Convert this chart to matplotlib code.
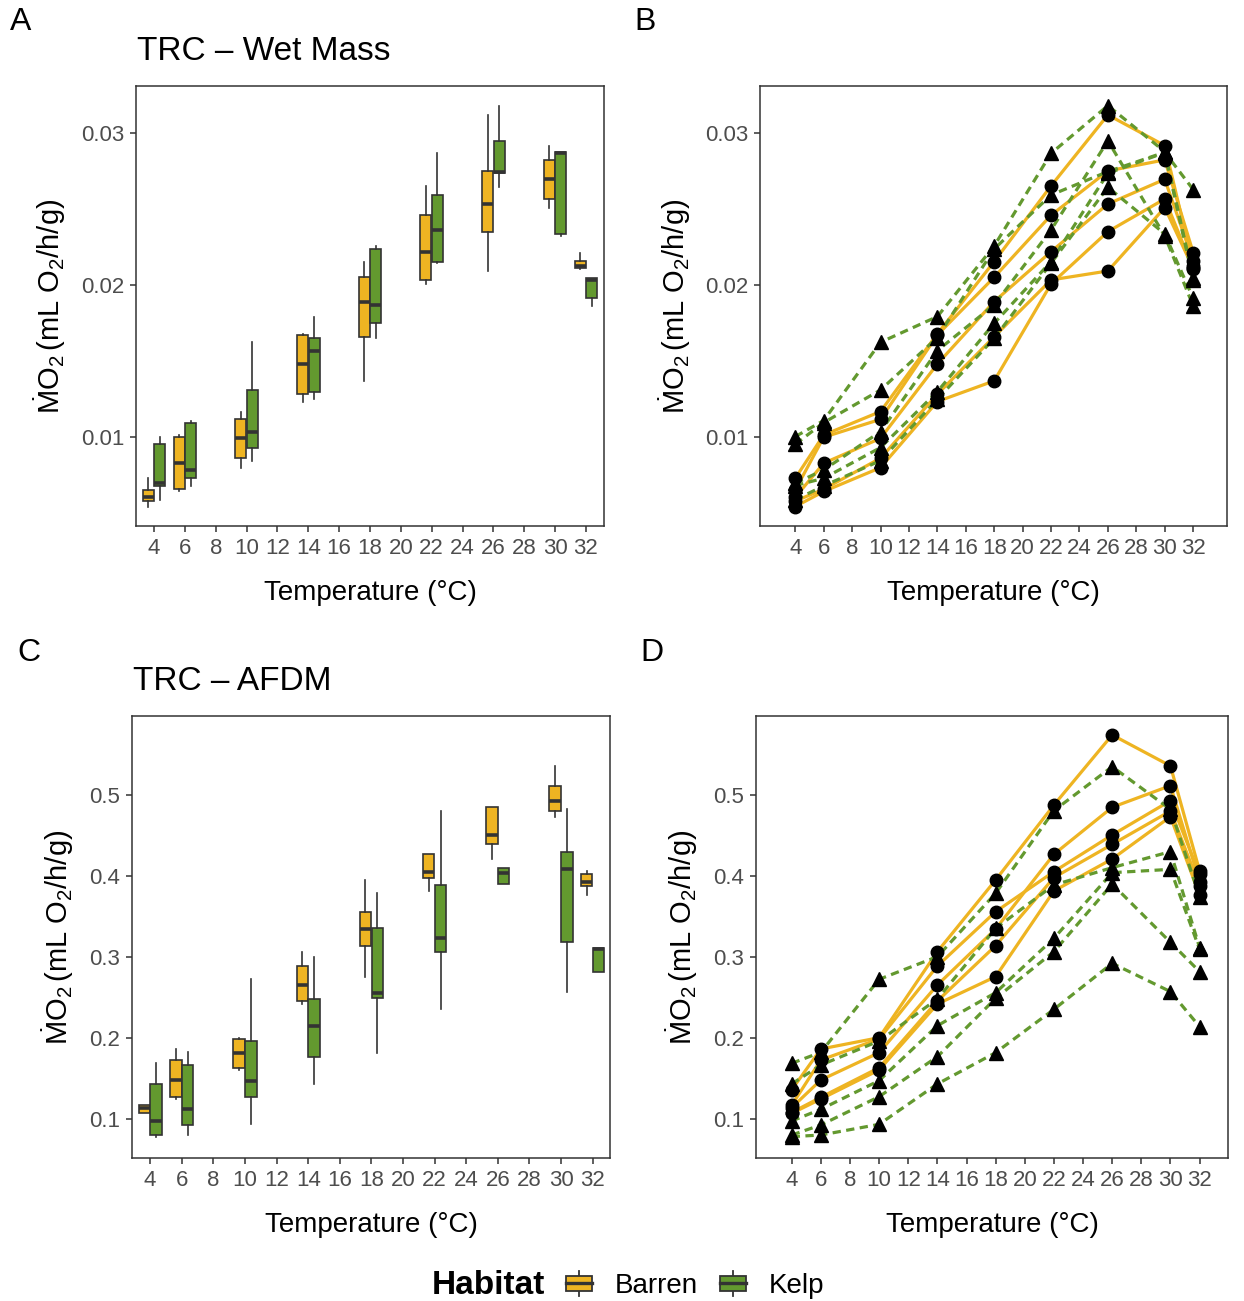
import matplotlib
matplotlib.use('Agg')
import matplotlib.pyplot as plt
import numpy as np
from matplotlib.legend_handler import HandlerBase
from matplotlib.patches import Rectangle, Patch
from matplotlib.lines import Line2D

plt.rcParams['font.family'] = ['Liberation Sans', 'DejaVu Sans']
plt.rcParams['mathtext.fontset'] = 'custom'
plt.rcParams['mathtext.rm'] = 'Liberation Sans'
plt.rcParams['mathtext.it'] = 'Liberation Sans:italic'
plt.rcParams['mathtext.bf'] = 'Liberation Sans:bold'

# ---- data: one row per individual, one column per temperature ----
temps = [4, 6, 10, 14, 18, 22, 26, 30, 32]

wm_barren = [
    [0.00730, 0.01015, 0.01169, 0.01680, 0.02156, 0.02654, 0.03121, 0.02919, 0.02129],
    [0.00653, 0.01000, 0.01118, 0.01673, 0.02053, 0.02461, 0.02752, 0.02825, 0.02215],
    [0.00605, 0.00829, 0.00993, 0.01482, 0.01893, 0.02221, 0.02535, 0.02697, 0.02162],
    [0.00580, 0.00658, 0.00862, 0.01283, 0.01662, 0.02035, 0.02094, 0.02511, 0.02112],
    [0.00544, 0.00643, 0.00800, 0.01235, 0.01371, 0.02009, 0.02353, 0.02568, 0.02110],
]
wm_kelp = [
    [0.01004, 0.01110, 0.01625, 0.01794, 0.02259, 0.02868, 0.03182, 0.02879, 0.02050],
    [0.00954, 0.01096, 0.01311, 0.01656, 0.02239, 0.02594, 0.02748, 0.02875, 0.02630],
    [0.00697, 0.00785, 0.01037, 0.01570, 0.01871, 0.02364, 0.02950, 0.02325, 0.01864],
    [0.00682, 0.00730, 0.00932, 0.01300, 0.01750, 0.02156, 0.02737, 0.02873, 0.02035],
    [0.00588, 0.00680, 0.00846, 0.01250, 0.01651, 0.02145, 0.02645, 0.02338, 0.01914],
]
afdm_barren = [
    [0.136, 0.1865, 0.2005, 0.3068, 0.3954, 0.488, 0.5746, 0.5363, 0.4065],
    [0.117, 0.1729, 0.1989, 0.2891, 0.3562, 0.4057, 0.4510, 0.4934, 0.4024],
    [0.114, 0.1482, 0.1820, 0.2656, 0.3348, 0.4271, 0.4852, 0.5119, 0.3933],
    [0.108, 0.1268, 0.1634, 0.2458, 0.3142, 0.3983, 0.4394, 0.4806, 0.3884],
    [0.107, 0.1247, 0.1606, 0.2421, 0.2759, 0.3818, 0.4213, 0.4736, 0.3768],
]
afdm_kelp = [
    [0.1688, 0.1824, 0.2726, 0.3006, 0.3789, 0.4811, 0.5354, 0.4827, 0.3748],
    [0.1433, 0.1667, 0.1964, 0.2483, 0.3356, 0.3892, 0.4106, 0.4304, 0.3117],
    [0.0975, 0.1120, 0.1474, 0.2153, 0.2561, 0.3233, 0.4044, 0.4085, 0.3097],
    [0.0802, 0.0926, 0.1276, 0.1770, 0.2491, 0.3068, 0.3904, 0.3183, 0.2821],
    [0.0782, 0.0802, 0.0934, 0.1433, 0.1820, 0.2355, 0.2924, 0.2574, 0.2141],
]

habitats = ['Barren', 'Kelp']
colors = {'Barren': '#EEB422', 'Kelp': '#63992F'}
dark = '#333333'
ylab = r'$\dot{\mathrm{M}}\mathrm{O}_2\,\left(\mathrm{mL\ O}_2\mathrm{/h/g}\right)$'

W, H = 1244, 1301
fig = plt.figure(figsize=(W / 100, H / 100), dpi=100)


def add_ax(l, t, r, b):
    return fig.add_axes([l / W, 1 - b / H, (r - l) / W, (b - t) / H])


def style(ax, xlim, ylim, yticks, yfmt):
    ax.set_xlim(xlim)
    ax.set_ylim(ylim)
    ax.set_xticks(np.arange(4, 33, 2))
    ax.set_yticks(yticks)
    ax.set_yticklabels([yfmt % v for v in yticks])
    ax.tick_params(length=4.5, width=1.1, color=dark, labelsize=16,
                   labelcolor='#4D4D4D', pad=4)
    for s in ax.spines.values():
        s.set_color(dark)
        s.set_linewidth(1.1)
    ax.text(0.5, -0.152, 'Temperature (°C)', transform=ax.transAxes,
            ha='center', va='center', fontsize=20)


def boxes(ax, barren, kelp):
    for data, off, hab in [(barren, -0.375, 'Barren'), (kelp, 0.375, 'Kelp')]:
        arr = np.array(data)
        ax.boxplot([arr[:, i] for i in range(len(temps))],
                   positions=[t + off for t in temps], widths=0.72,
                   patch_artist=True, showfliers=False, showcaps=False,
                   manage_ticks=False,
                   boxprops=dict(facecolor=colors[hab], edgecolor=dark, linewidth=1.2),
                   whiskerprops=dict(color=dark, linewidth=1.2),
                   medianprops=dict(color=dark, linewidth=2.6))


def lines(ax, barren, kelp):
    for row in barren:
        ax.plot(temps, row, color=colors['Barren'], lw=2.3, zorder=2)
    for row in kelp:
        ax.plot(temps, row, color=colors['Kelp'], lw=2.3, ls=(0, (2.6, 1.7)), zorder=2)
    for row in barren:
        ax.plot(temps, row, ls='none', marker='o', ms=9, color='black', zorder=3)
    for row in kelp:
        ax.plot(temps, row, ls='none', marker='^', ms=10, color='black', zorder=3)


wm_ylim = (0.00416, 0.03311)
af_ylim = (0.0518, 0.598)

axA = add_ax(136, 86, 604, 526)
boxes(axA, wm_barren, wm_kelp)
style(axA, (2.83, 33.17), wm_ylim, [0.01, 0.02, 0.03], '%.2f')

axB = add_ax(760, 86, 1227, 526)
lines(axB, wm_barren, wm_kelp)
style(axB, (1.52, 34.38), wm_ylim, [0.01, 0.02, 0.03], '%.2f')

axC = add_ax(132, 716, 610, 1158)
boxes(axC, afdm_barren, afdm_kelp)
style(axC, (2.85, 33.1), af_ylim, [0.1, 0.2, 0.3, 0.4, 0.5], '%.1f')

axD = add_ax(756, 716, 1228, 1158)
lines(axD, afdm_barren, afdm_kelp)
style(axD, (1.55, 33.95), af_ylim, [0.1, 0.2, 0.3, 0.4, 0.5], '%.1f')

# y labels, titles, panel letters
for x, y in [(50, 306), (675, 306), (58, 937), (682, 937)]:
    fig.text(x / W, 1 - y / H, ylab, rotation=90, ha='center', va='center', fontsize=21)

fig.text(137 / W, 1 - 52 / H, 'TRC – Wet Mass', ha='left', va='center', fontsize=24)
fig.text(133 / W, 1 - 682 / H, 'TRC – AFDM', ha='left', va='center', fontsize=24)
for lab, x, y in [('A', 21, 22), ('B', 645, 22), ('C', 29, 653), ('D', 652, 653)]:
    fig.text(x / W, 1 - y / H, lab, ha='center', va='center', fontsize=23)


# legend with boxplot-style keys
class BoxKey(HandlerBase):
    def create_artists(self, legend, orig_handle, xdescent, ydescent,
                       width, height, fontsize, trans):
        x0, y0 = -xdescent, -ydescent
        fc = orig_handle.get_facecolor()
        r = Rectangle((x0, y0 + height * 0.2), width, height * 0.6,
                      facecolor=fc, edgecolor=dark, lw=1.3, transform=trans)
        wl = Line2D([x0 + width / 2] * 2, [y0, y0 + height],
                    color=dark, lw=1.3, transform=trans)
        ml = Line2D([x0, x0 + width], [y0 + height / 2] * 2,
                    color=dark, lw=2.4, transform=trans)
        return [wl, r, ml]


handles = [Patch(facecolor=colors[h]) for h in habitats]
fig.legend(handles, habitats, handler_map={Patch: BoxKey()},
           loc='center', bbox_to_anchor=(695 / W, 1 - 1285 / H), ncol=2,
           frameon=False, fontsize=20, handlelength=0.95, handleheight=1.0,
           handletextpad=0.8, columnspacing=0.8)
fig.text(545 / W, 1 - 1285 / H, 'Habitat', ha='right', va='center',
         fontsize=24, fontweight='bold')

fig.savefig('out.png', dpi=100)
